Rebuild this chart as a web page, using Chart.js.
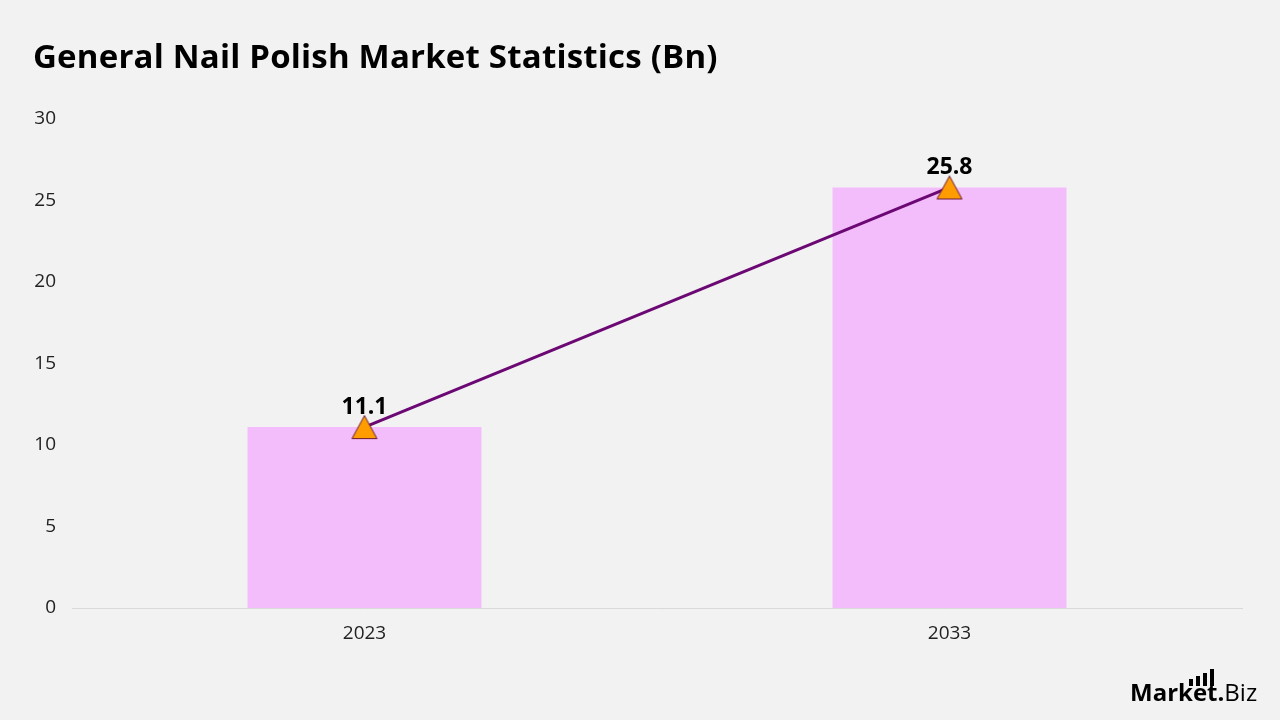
<!DOCTYPE html>
<html>
<head>
<meta charset="utf-8">
<script src="https://cdn.jsdelivr.net/npm/chart.js@4"></script>
<style>
  html, body { margin: 0; padding: 0; background: #f2f2f2; }
  #wrap { width: 1280px; height: 720px; position: relative; }
</style>
</head>
<body>
<div id="wrap"><canvas id="c" width="1280" height="720"></canvas></div>
<script>
const titleText = "General Nail Polish Market Statistics (Bn)";
const categories = ["2023", "2033"];
const marketValues = [11.1, 25.8];
const yTicks = [0, 5, 10, 15, 20, 25, 30];

const FONT = "'Open Sans', 'Noto Sans', sans-serif";

// triangle marker image, centred on its bounding box
const tri = document.createElement('canvas');
tri.width = 28; tri.height = 26;
(function () {
  const t = tri.getContext('2d');
  t.beginPath();
  t.moveTo(14, 1.5);
  t.lineTo(26.5, 24.5);
  t.lineTo(1.5, 24.5);
  t.closePath();
  t.fillStyle = '#ff9c00';
  t.fill();
  t.lineWidth = 1;
  t.strokeStyle = '#6a1a3a';
  t.stroke();
})();

const decor = {
  id: 'decor',
  afterDraw(chart) {
    const ctx = chart.ctx;
    ctx.save();
    // Title
    ctx.fillStyle = '#000';
    ctx.font = `bold 33px ${FONT}`;
    ctx.letterSpacing = '0.2px';
    ctx.textBaseline = 'middle';
    ctx.textAlign = 'left';
    ctx.fillText(titleText, 33, 59);
    ctx.letterSpacing = '0px';
    // Data labels
    const meta = chart.getDatasetMeta(1);
    ctx.font = `bold 23px ${FONT}`;
    ctx.textAlign = 'center';
    meta.data.forEach((pt, i) => {
      ctx.fillText(String(marketValues[i]), pt.x, pt.y - 20);
    });
    // Logo
    ctx.textAlign = 'left';
    ctx.textBaseline = 'alphabetic';
    ctx.font = `bold 24px ${FONT}`;
    const m = 'Market.';
    ctx.fillText(m, 1130, 701);
    const w = ctx.measureText(m).width;
    ctx.font = `24px ${FONT}`;
    ctx.fillText('Biz', 1130 + w, 701);
    const bx = [1189, 1196, 1203, 1210];
    const bh = [7, 10, 13, 17];
    bx.forEach((x, i) => { ctx.fillRect(x, 686 - bh[i], 4, bh[i]); });
    ctx.restore();
  }
};

new Chart(document.getElementById('c'), {
  data: {
    labels: categories,
    datasets: [
      {
        type: 'bar',
        data: marketValues,
        backgroundColor: '#f3bdfb',
        barPercentage: 0.4,
        categoryPercentage: 1,
        order: 2
      },
      {
        type: 'line',
        data: marketValues,
        borderColor: '#6c0874',
        borderWidth: 3,
        pointStyle: tri,
        pointRadius: 13,
        pointHoverRadius: 13,
        order: 1
      }
    ]
  },
  options: {
    responsive: false,
    animation: false,
    devicePixelRatio: 1,
    layout: { padding: { top: 119, right: 38, left: 0, bottom: 0 } },
    plugins: { legend: { display: false }, tooltip: { enabled: false }, title: { display: false } },
    scales: {
      x: {
        grid: { display: false, drawTicks: false },
        border: { display: true, color: '#d9d9d9', width: 1 },
        ticks: { color: '#222', font: { family: FONT, size: 19 }, padding: 14 },
        afterFit(s) { s.height = 112; }
      },
      y: {
        min: 0, max: 30,
        afterBuildTicks(s) { s.ticks = yTicks.map(v => ({ value: v })); },
        grid: { display: false, drawTicks: false },
        border: { display: false },
        ticks: { color: '#222', font: { family: FONT, size: 19 }, padding: 16 },
        afterFit(s) { s.width = 72; }
      }
    }
  },
  plugins: [decor]
});
</script>
</body>
</html>
